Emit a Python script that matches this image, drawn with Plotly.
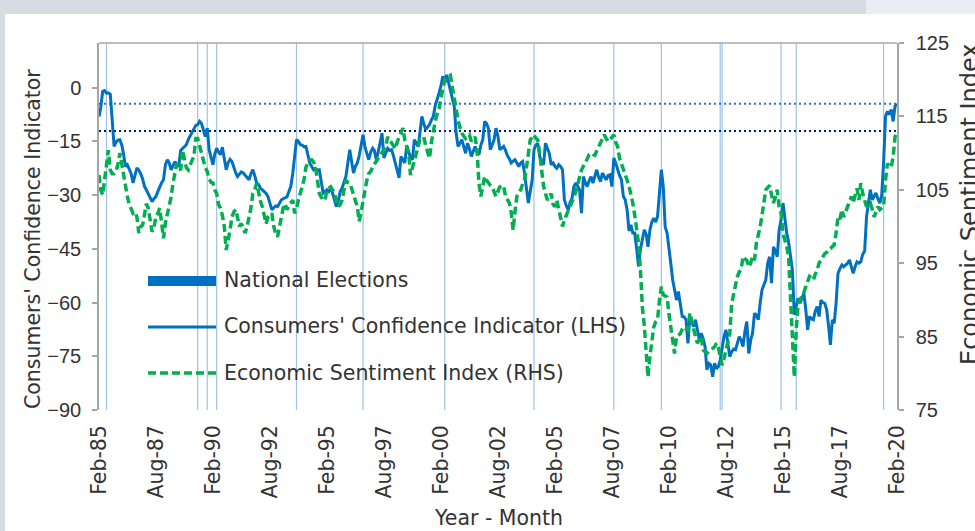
import plotly.graph_objects as go
import pandas as pd

# ---------------- data (monthly, Feb-1985 .. Feb-2020) ----------------
cci = [
    # 1985 (Feb-Dec)
    -8.0, -5.5, -1.0, -0.8, -1.5, -1.4, -1.8, -9.0, -16.4, -15.2, -14.6,
    # 1986
    -14.5, -16.0, -18.5, -22.0, -21.5, -23.0, -24.0, -26.6, -24.0, -22.4, -23.0, -24.0,
    # 1987
    -25.5, -27.6, -28.5, -29.5, -30.4, -31.8, -31.0, -30.4, -29.0, -27.6, -26.5, -25.7,
    # 1988
    -21.5, -20.1, -21.0, -22.9, -21.5, -20.6, -21.5, -22.0, -17.5, -16.9, -16.5, -15.9,
    # 1989
    -14.5, -13.5, -12.7, -11.5, -10.5, -10.3, -9.4, -10.0, -11.7, -13.6, -11.3, -17.3,
    # 1990
    -19.5, -21.5, -18.5, -16.9, -18.0, -18.7, -16.6, -19.5, -22.9, -21.0, -20.0, -20.6,
    # 1991
    -22.5, -23.8, -24.8, -24.2, -23.5, -23.8, -24.5, -25.0, -25.7, -24.0, -22.9, -24.5,
    # 1992
    -26.6, -27.0, -28.0, -28.5, -29.0, -29.5, -30.4, -32.0, -34.1, -33.5, -33.0, -33.2,
    # 1993
    -32.0, -31.3, -31.0, -30.8, -30.5, -29.0, -27.6, -24.0, -18.0, -14.5, -15.0, -15.9,
    # 1994
    -16.0, -16.5, -16.4, -19.0, -21.0, -22.0, -22.9, -22.5, -23.0, -22.9, -26.0, -29.4,
    # 1995
    -29.0, -28.5, -29.0, -28.0, -29.4, -31.0, -33.2, -31.5, -29.0, -28.0, -26.5, -24.8,
    # 1996
    -21.0, -17.3, -20.5, -23.8, -22.0, -21.0, -19.0, -16.0, -13.1, -16.5, -18.5, -20.1,
    # 1997
    -18.0, -16.9, -17.5, -20.1, -18.0, -15.0, -12.7, -19.6, -18.0, -16.9, -17.5, -17.3,
    # 1998
    -19.0, -21.0, -23.0, -25.2, -19.2, -20.0, -21.0, -16.2, -18.0, -19.5, -20.1, -14.5,
    # 1999
    -15.5, -16.4, -12.5, -8.0, -10.0, -11.7, -11.0, -10.3, -9.0, -8.0, -5.0, -2.9,
    # 2000
    -1.5, 0.5, 3.2, 1.3, 3.6, 1.5, -0.6, -3.0, -5.2, -12.7, -16.4, -15.5,
    # 2001
    -14.5, -16.5, -18.3, -15.5, -17.0, -19.2, -17.5, -16.4, -18.0, -18.7, -16.0, -14.5,
    # 2002
    -9.4, -10.0, -11.3, -17.3, -16.0, -14.5, -11.3, -13.5, -17.3, -16.8, -16.4, -17.5,
    # 2003
    -19.0, -19.8, -21.0, -20.5, -20.1, -21.0, -22.0, -21.0, -20.6, -23.8, -27.6, -32.2,
    # 2004
    -29.0, -25.7, -17.3, -16.0, -15.5, -19.2, -20.5, -21.5, -15.5, -17.0, -18.3, -21.5,
    # 2005
    -21.0, -22.0, -22.5, -21.5, -22.0, -22.9, -31.3, -33.0, -34.1, -32.0, -30.8, -27.6,
    # 2006
    -26.6, -27.5, -28.5, -35.0, -24.8, -26.5, -27.6, -26.0, -24.8, -26.6, -25.0, -22.9,
    # 2007
    -25.0, -26.2, -23.8, -25.0, -25.7, -24.5, -24.3, -27.6, -19.6, -21.0, -22.9, -24.5,
    # 2008
    -25.7, -30.4, -31.3, -34.1, -40.0, -38.3, -40.6, -40.6, -45.0, -49.9, -45.0, -42.5,
    # 2009
    -39.7, -41.0, -44.4, -39.7, -37.5, -36.4, -37.5, -36.0, -30.0, -22.9, -27.6, -38.8,
    # 2010
    -40.6, -46.0, -49.0, -53.7, -56.0, -59.3, -56.9, -60.5, -63.9, -64.0, -64.8, -71.4,
    # 2011
    -63.9, -65.5, -66.7, -64.8, -67.5, -70.4, -68.6, -70.0, -72.3, -78.8, -77.0, -77.4,
    # 2012
    -80.7, -76.9, -78.5, -77.9, -76.0, -72.5, -69.5, -67.6, -72.0, -75.1, -73.7, -73.0,
    # 2013
    -73.2, -71.0, -69.5, -70.5, -72.3, -68.0, -65.3, -74.2, -70.5, -68.6, -63.0, -63.5,
    # 2014
    -64.8, -60.0, -56.5, -55.0, -53.7, -49.0, -47.2, -54.6, -44.4, -45.6, -47.2, -39.7,
    # 2015
    -36.9, -32.2, -36.0, -40.6, -43.0, -47.5, -50.9, -63.4, -60.5, -58.8, -60.2, -58.5,
    # 2016
    -57.4, -62.0, -67.6, -63.9, -64.5, -64.8, -62.5, -61.1, -63.9, -59.3, -60.0, -60.2,
    # 2017
    -62.0, -66.7, -71.8, -64.8, -65.8, -60.0, -51.8, -50.5, -49.5, -50.0, -49.5, -49.0,
    # 2018
    -48.1, -50.0, -51.8, -50.0, -48.6, -49.0, -48.6, -46.5, -45.6, -36.0, -31.3, -28.5,
    # 2019
    -31.3, -30.5, -29.4, -31.0, -32.2, -30.0, -21.0, -8.0, -6.6, -7.5, -6.1, -9.4,
    # 2020 (Jan-Feb)
    -5.2, -4.5,
]

esi = [
    # 1985 (Feb-Dec)
    107.0, 105.0, 104.3, 106.5, 109.0, 110.4, 107.7, 107.2, 107.2, 107.5, 108.5,
    # 1986
    110.0, 108.5, 107.0, 105.5, 104.1, 103.0, 102.5, 101.8, 102.0, 101.3, 99.1, 100.0,
    # 1987
    100.2, 101.5, 103.1, 102.5, 101.0, 99.3, 99.8, 101.3, 101.8, 102.5, 100.5, 98.4,
    # 1988
    100.5, 101.8, 102.5, 104.0, 105.9, 107.5, 108.6, 108.0, 107.7, 110.4, 109.0, 108.0,
    # 1989
    107.7, 108.5, 109.0, 109.5, 112.0, 112.0, 110.9, 110.0, 109.1, 108.0, 107.5, 106.5,
    # 1990
    106.0, 105.9, 105.0, 104.5, 103.0, 102.5, 101.5, 100.0, 96.8, 98.0, 99.5, 101.3,
    # 1991
    102.0, 102.3, 101.0, 100.0, 100.4, 99.8, 99.1, 100.0, 101.3, 102.5, 104.5, 105.0,
    # 1992
    105.9, 104.5, 103.5, 102.7, 101.5, 100.4, 101.3, 101.5, 101.8, 100.0, 99.0, 98.6,
    # 1993
    100.0, 101.3, 102.5, 103.1, 102.3, 102.8, 103.2, 103.6, 101.8, 102.5, 103.6, 104.5,
    # 1994
    105.4, 106.5, 108.1, 108.5, 109.0, 109.1, 108.8, 108.1, 106.5, 104.5, 104.0, 103.6,
    # 1995
    103.6, 105.0, 105.2, 105.4, 105.0, 104.5, 103.5, 102.7, 103.0, 103.6, 105.0, 106.3,
    # 1996
    106.0, 105.9, 105.2, 104.5, 103.5, 102.7, 100.7, 102.0, 103.6, 105.0, 106.3, 107.2,
    # 1997
    107.5, 108.1, 108.5, 109.1, 109.3, 109.6, 110.0, 110.5, 111.0, 112.2, 111.8, 111.3,
    # 1998
    111.0, 110.6, 111.5, 112.2, 113.0, 113.4, 111.8, 111.0, 110.0, 107.0, 108.0, 109.0,
    # 1999
    110.0, 111.0, 111.8, 112.0, 112.2, 111.0, 110.0, 109.3, 111.5, 113.0, 114.3, 115.3,
    # 2000
    116.0, 117.5, 118.8, 120.0, 120.3, 120.5, 120.6, 119.0, 117.5, 115.4, 114.5, 113.5,
    # 2001
    112.7, 112.3, 112.0, 112.3, 112.5, 111.6, 112.0, 112.2, 110.4, 105.9, 104.1, 105.5,
    # 2002
    106.8, 106.3, 105.9, 105.6, 105.4, 104.8, 104.1, 104.8, 105.4, 105.6, 105.5, 104.1,
    # 2003
    103.6, 103.2, 102.0, 99.5, 102.0, 104.1, 104.5, 105.0, 105.8, 106.3, 108.0, 110.0,
    # 2004
    111.8, 112.2, 112.5, 112.0, 111.8, 109.9, 107.5, 105.5, 104.5, 103.6, 104.0, 104.5,
    # 2005
    103.0, 102.7, 103.6, 102.5, 101.3, 100.0, 100.9, 101.5, 102.3, 102.8, 103.2, 104.0,
    # 2006
    104.8, 105.9, 107.0, 107.7, 108.2, 108.6, 109.2, 109.8, 110.0, 109.8, 109.7, 110.3,
    # 2007
    110.9, 111.5, 111.8, 112.5, 112.0, 111.6, 111.8, 112.2, 112.5, 111.5, 110.9, 109.3,
    # 2008
    108.6, 107.9, 107.0, 106.3, 105.5, 104.5, 103.2, 101.5, 99.5, 97.7, 94.0, 89.0,
    # 2009
    86.5, 82.0, 79.5, 82.3, 84.5, 86.3, 87.0, 87.3, 90.0, 91.8, 90.7, 90.5,
    # 2010
    90.4, 88.0, 86.3, 85.0, 82.7, 85.0, 85.2, 85.4, 86.0, 86.3, 86.0, 85.9,
    # 2011
    88.2, 87.0, 85.9, 85.0, 84.1, 84.5, 85.0, 83.2, 83.0, 82.7, 83.0, 83.2,
    # 2012
    83.4, 83.6, 84.1, 83.5, 82.3, 81.1, 82.0, 83.2, 84.5, 85.4, 89.5, 91.0,
    # 2013
    92.0, 93.2, 93.8, 94.1, 95.9, 95.6, 95.4, 94.5, 95.0, 95.9, 95.4, 97.7,
    # 2014
    98.8, 100.0, 101.5, 103.0, 105.0, 105.3, 105.6, 104.3, 103.2, 104.0, 105.0, 102.7,
    # 2015
    101.8, 99.0, 98.2, 97.3, 95.9, 90.9, 84.0, 79.5, 86.0, 89.5, 90.0, 90.4,
    # 2016
    91.0, 91.8, 92.5, 93.2, 93.0, 92.7, 93.5, 94.1, 95.0, 95.5, 95.9, 96.3,
    # 2017
    96.5, 96.9, 97.0, 97.3, 97.5, 99.1, 101.3, 101.0, 102.3, 101.3, 102.0, 102.7,
    # 2018
    103.5, 104.1, 103.2, 104.5, 105.2, 103.6, 105.9, 104.5, 103.5, 102.7, 103.0, 103.2,
    # 2019
    102.3, 101.3, 102.0, 102.7, 102.3, 102.5, 102.7, 106.3, 108.6, 108.1, 108.1, 109.5,
    # 2020 (Jan-Feb)
    112.2, 113.0,
]

election_dates = [
    "1985-06-01", "1989-06-01", "1989-11-01", "1990-04-01", "1993-10-01",
    "1996-09-01", "2000-04-01", "2004-03-01", "2007-09-01", "2009-10-01",
    "2012-05-01", "2012-06-01", "2015-01-01", "2015-09-01", "2019-07-01",
]

tick_labels = ["Feb-85", "Aug-87", "Feb-90", "Aug-92", "Feb-95", "Aug-97", "Feb-00",
               "Aug-02", "Feb-05", "Aug-07", "Feb-10", "Aug-12", "Feb-15", "Aug-17", "Feb-20"]

cci_ticks = [-90, -75, -60, -45, -30, -15, 0]
esi_ticks = [75, 85, 95, 105, 115, 125]

# ---------------- layout helpers ----------------
W, H = 975, 531
L, R, T, B = 99, 897, 43, 410   # plot area in pixels


def px(x):
    return (x - L) / (R - L)


def py(y):
    return (B - y) / (B - T)


months = pd.date_range("1985-02-01", periods=len(cci), freq="MS")
tick_dates = pd.date_range("1985-02-01", periods=len(tick_labels), freq="30MS")

BLUE = "#0070C0"
GREEN = "#00B050"
AXIS = "#A6A6A6"
TEXT = "#333333"
TXT_FONT = "DejaVu Sans"
NUM_FONT = "Liberation Sans"
DASH = "8px,4px"

fig = go.Figure()
fig.add_trace(go.Scatter(x=months, y=cci, mode="lines", yaxis="y",
                         line=dict(color=BLUE, width=3), showlegend=False,
                         name="Consumers' Confidence Indicator (LHS)"))
fig.add_trace(go.Scatter(x=months, y=esi, mode="lines", yaxis="y2",
                         line=dict(color=GREEN, width=3.5, dash=DASH), showlegend=False,
                         name="Economic Sentiment Index (RHS)"))

shapes = []
# page background pieces
shapes.append(dict(type="rect", xref="paper", yref="paper", x0=px(0), x1=px(866), y0=py(14), y1=py(0),
                   fillcolor="#D6DCE4", line=dict(width=0), layer="below"))
shapes.append(dict(type="rect", xref="paper", yref="paper", x0=px(866), x1=px(W), y0=py(14), y1=py(0),
                   fillcolor="#E9EDF5", line=dict(width=0), layer="below"))
shapes.append(dict(type="rect", xref="paper", yref="paper", x0=px(0), x1=px(5), y0=py(H), y1=py(14),
                   fillcolor="#D6DCE4", line=dict(width=0), layer="below"))
# top border of plot area
shapes.append(dict(type="line", xref="paper", yref="paper", x0=0, x1=1, y0=1, y1=1,
                   line=dict(color=AXIS, width=1.5)))
# election lines
for d in election_dates:
    shapes.append(dict(type="line", xref="x", yref="paper", x0=d, x1=d, y0=0, y1=1,
                       line=dict(color="#9DC3E6", width=1.2), layer="below"))
# latest-value reference lines
shapes.append(dict(type="line", xref="paper", yref="y", x0=0, x1=1, y0=cci[-1], y1=cci[-1],
                   line=dict(color="#2E75B6", width=2, dash="2px,3px"), layer="below"))
shapes.append(dict(type="line", xref="paper", yref="y2", x0=0, x1=1, y0=esi[-1], y1=esi[-1],
                   line=dict(color="#002060", width=2, dash="2px,3px"), layer="below"))
# custom legend symbols
shapes.append(dict(type="rect", xref="paper", yref="paper", x0=px(148), x1=px(216), y0=py(286), y1=py(276),
                   fillcolor=BLUE, line=dict(width=0)))
shapes.append(dict(type="line", xref="paper", yref="paper", x0=px(148), x1=px(216), y0=py(327), y1=py(327),
                   line=dict(color=BLUE, width=3)))
shapes.append(dict(type="line", xref="paper", yref="paper", x0=px(148), x1=px(216), y0=py(373), y1=py(373),
                   line=dict(color=GREEN, width=3.5, dash=DASH)))

ann = []
legend_items = [("National Elections", 280), ("Consumers' Confidence Indicator (LHS)", 326),
                ("Economic Sentiment Index (RHS)", 373)]
for txt, yy in legend_items:
    ann.append(dict(text=txt, xref="paper", yref="paper", x=px(222), y=py(yy), xanchor="left",
                    yanchor="middle", showarrow=False, font=dict(family=TXT_FONT, size=20.5, color=TEXT)))
ann.append(dict(text="Consumers' Confidence Indicator", xref="paper", yref="paper", x=px(33), y=py(239),
                textangle=-90, showarrow=False, xanchor="center", yanchor="middle",
                font=dict(family=TXT_FONT, size=20.5, color=TEXT)))
ann.append(dict(text="Economic Sentiment Index", xref="paper", yref="paper", x=px(970), y=py(204),
                textangle=-90, showarrow=False, xanchor="center", yanchor="middle",
                font=dict(family=TXT_FONT, size=24, color=TEXT)))
ann.append(dict(text="Year - Month", xref="paper", yref="paper", x=px(498), y=py(518),
                showarrow=False, xanchor="center", yanchor="middle",
                font=dict(family=TXT_FONT, size=20.5, color=TEXT)))

fig.update_layout(
    width=W, height=H, autosize=False,
    margin=dict(l=L, r=W - R, t=T, b=H - B, pad=0),
    paper_bgcolor="white", plot_bgcolor="white",
    shapes=shapes, annotations=ann, showlegend=False,
    xaxis=dict(type="date", range=[months[0], months[-1]], tickvals=tick_dates, ticktext=tick_labels,
               tickangle=-90, showline=False, ticks="", showgrid=False, zeroline=False,
               tickfont=dict(family=TXT_FONT, size=20.5, color=TEXT), ticklabelstandoff=10),
    yaxis=dict(range=[-90, 12.5], tickvals=cci_ticks, showline=True, linecolor=AXIS, linewidth=1.5,
               ticks="outside", ticklen=5, tickwidth=1.5, tickcolor=AXIS, showgrid=False, zeroline=False,
               tickfont=dict(family=NUM_FONT, size=20, color=TEXT), ticklabelstandoff=7),
    yaxis2=dict(range=[75, 125], tickvals=esi_ticks, overlaying="y", side="right", showline=True,
                linecolor=AXIS, linewidth=1.5, ticks="outside", ticklen=5, tickwidth=1.5, tickcolor=AXIS,
                showgrid=False, zeroline=False,
                tickfont=dict(family=NUM_FONT, size=20, color=TEXT), ticklabelstandoff=8),
)

fig.write_html("out.html", config={"displayModeBar": False},
               post_script="document.body.style.margin='0px';document.body.style.overflow='hidden';")
